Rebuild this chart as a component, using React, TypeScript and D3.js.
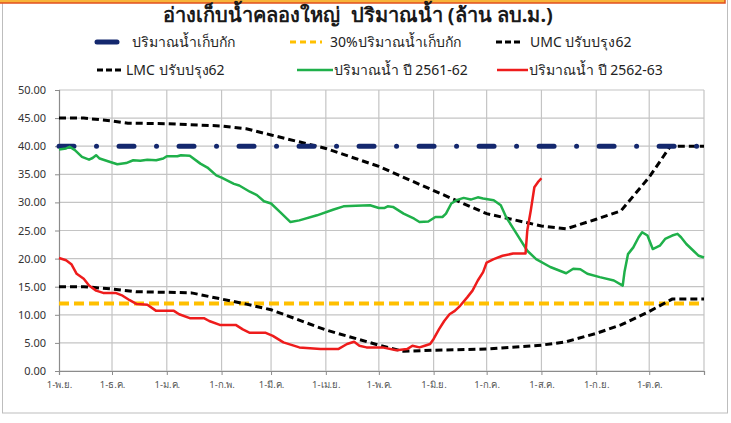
import React, { useEffect, useRef } from 'react'
import * as d3 from 'd3'

const W = 731
const H = 423
const margin = { top: 90, right: 27, bottom: 52, left: 59 }
const width = W - margin.left - margin.right
const height = H - margin.top - margin.bottom

// day offsets counted from 1-พ.ย.
const monthLabels = ['1-พ.ย.', '1-ธ.ค.', '1-ม.ค.', '1-ก.พ.', '1-มี.ค.', '1-เม.ย.', '1-พ.ค.', '1-มิ.ย.', '1-ก.ค.', '1-ส.ค.', '1-ก.ย.', '1-ต.ค.']
const yTicks = [0, 5, 10, 15, 20, 25, 30, 35, 40, 45, 50]

const capacity = 40
const lowLevel = 12

const umc: [number, number][] = [
  [0, 45], [14, 45], [30, 44.5], [39, 44.1], [61, 44.0], [92, 43.6], [106, 43.1], [120, 42.0],
  [151, 39.6], [181, 36.4], [212, 32.1], [242, 28.0], [273, 25.8], [287, 25.3], [304, 27.0],
  [318, 28.5], [334, 34.5], [346, 40], [365, 40]
]

const lmc: [number, number][] = [
  [0, 15.0], [14, 15.0], [30, 14.6], [44, 14.1], [61, 14.0], [75, 13.9], [92, 12.8], [106, 11.9],
  [120, 10.9], [151, 7.3], [181, 4.6], [195, 3.5], [212, 3.7], [242, 3.9], [273, 4.6], [287, 5.2],
  [304, 6.7], [318, 8.2], [334, 10.6], [347, 12.8], [365, 12.8]
]

const water6162: [number, number][] = [
  [0, 39.4], [4, 39.6], [6, 39.9], [9, 39.3], [13, 38.1], [17, 37.6], [19, 37.9], [21, 38.4], [23, 37.8],
  [29, 37.2], [33, 36.8], [38, 37.0], [42, 37.5], [46, 37.4], [50, 37.6], [55, 37.5], [59, 37.8], [61, 38.2],
  [67, 38.2], [69, 38.4], [74, 38.3], [80, 36.9], [84, 36.2], [89, 34.8], [92, 34.4], [99, 33.3], [102, 33.0],
  [108, 31.9], [112, 31.3], [116, 30.2], [120, 29.8], [125, 28.3], [131, 26.5], [136, 26.8], [146, 27.7],
  [155, 28.7], [161, 29.3], [168, 29.4], [176, 29.5], [181, 29.0], [184, 29.0], [186, 29.3], [189, 29.2],
  [195, 28.0], [201, 27.1], [204, 26.5], [209, 26.6], [213, 27.4], [217, 27.4], [219, 28.0], [222, 29.8],
  [225, 30.4], [229, 30.8], [233, 30.5], [237, 30.9], [240, 30.7], [246, 30.4], [250, 29.5], [253, 27.4],
  [259, 24.4], [265, 21.4], [270, 19.9], [278, 18.5], [287, 17.4], [291, 18.2], [295, 18.1], [299, 17.3],
  [306, 16.7], [314, 16.1], [319, 15.2], [320, 17.6], [322, 20.8], [325, 22.0], [328, 23.8], [330, 24.7],
  [333, 24.1], [336, 21.7], [340, 22.3], [343, 23.5], [347, 24.1], [350, 24.4], [352, 23.8], [355, 22.6],
  [359, 21.4], [362, 20.5], [365, 20.2]
]

const water6263: [number, number][] = [
  [0, 20.1], [4, 19.7], [7, 19.0], [10, 17.3], [14, 16.4], [17, 15.2], [21, 14.3], [25, 13.9], [32, 13.9],
  [36, 13.4], [40, 12.6], [44, 11.9], [50, 11.8], [55, 10.7], [65, 10.7], [68, 10.1], [74, 9.4], [82, 9.4],
  [85, 8.9], [91, 8.2], [100, 8.2], [104, 7.4], [108, 6.8], [117, 6.8], [121, 6.25], [127, 5.1], [136, 4.2],
  [148, 3.9], [158, 3.9], [163, 4.8], [167, 5.2], [170, 4.5], [174, 4.2], [183, 4.2], [191, 3.7], [197, 3.9],
  [200, 4.5], [204, 4.2], [207, 4.5], [210, 4.8], [212, 5.7], [215, 7.4], [218, 8.9], [221, 10.1], [224, 10.7],
  [227, 11.6], [231, 13.1], [234, 14.3], [237, 16.1], [240, 17.6], [242, 19.3], [246, 19.9], [251, 20.5],
  [257, 20.9], [264, 20.9], [265, 25.0], [267, 28.6], [269, 32.7], [271, 33.6], [273, 34.3]
]

const FONT = "Tahoma, 'Noto Sans', sans-serif"

const App = () => {
  const ref = useRef<SVGSVGElement>(null)

  useEffect(() => {
    if (!ref.current) return
    const root = d3.select(ref.current)
    root.selectAll('*').remove()

    const start = new Date(2018, 10, 1)
    const end = new Date(2019, 10, 1)
    const day = (d: number) => d3.timeDay.offset(start, d)

    const x = d3.scaleTime().domain([start, end]).range([0, width])
    const y = d3.scaleLinear().domain([0, 50]).range([height, 0])
    const months = d3.timeMonth.range(start, end)

    // outer frame + cut-off header box
    root.append('rect').attr('x', 2.5).attr('y', -5).attr('width', 725).attr('height', 418)
      .attr('fill', '#fff').attr('stroke', '#bdbdbd')
    root.append('rect').attr('x', -3).attr('y', -20).attr('width', 728).attr('height', 23)
      .attr('fill', '#f7b43a').attr('stroke', '#e2501f').attr('stroke-width', 1.5)

    // title
    root.append('text').attr('x', 358).attr('y', 22).attr('text-anchor', 'middle')
      .attr('font-family', FONT).attr('font-size', 20).attr('font-weight', 'bold').attr('fill', '#1a1a1a')
      .style('white-space', 'pre')
      .text('อ่างเก็บน้ำคลองใหญ่  ปริมาณน้ำ (ล้าน ลบ.ม.)')

    const svg = root.append('g').attr('transform', `translate(${margin.left},${margin.top})`)

    // grid
    svg.selectAll('.hgrid').data(yTicks).enter().append('line')
      .attr('x1', 0).attr('x2', width).attr('y1', d => y(d)).attr('y2', d => y(d))
      .attr('stroke', '#c4c4c4').attr('stroke-width', 1.2)
    svg.selectAll('.vgrid').data([...months.slice(1), end]).enter().append('line')
      .attr('x1', d => x(d)).attr('x2', d => x(d)).attr('y1', 0).attr('y2', height)
      .attr('stroke', '#c4c4c4').attr('stroke-width', 1.2)

    // axes
    const xAxis = d3.axisBottom(x).tickValues(months).tickSize(4)
      .tickFormat((_, i) => monthLabels[i])
    const gx = svg.append('g').attr('transform', `translate(0,${height})`).call(xAxis)
    gx.select('.domain').attr('stroke', '#8c8c8c').attr('stroke-width', 1.2)
    gx.selectAll('.tick line').attr('stroke', '#8c8c8c')
    gx.selectAll('.tick text').attr('font-family', FONT).attr('font-size', 9.5).attr('fill', '#555').attr('dy', '1.1em')

    const yAxis = d3.axisLeft(y).tickValues(yTicks).tickSize(4).tickFormat(d3.format('.2f'))
    const gy = svg.append('g').call(yAxis)
    gy.select('.domain').attr('stroke', '#8c8c8c').attr('stroke-width', 1.2)
    gy.selectAll('.tick line').attr('stroke', '#8c8c8c')
    gy.selectAll('.tick text').attr('font-family', FONT).attr('font-size', 11).attr('fill', '#333').attr('x', -13)

    const line = d3.line<[number, number]>().x(d => x(day(d[0]))).y(d => y(d[1]))

    // series
    svg.append('path').datum([[0, lowLevel], [365, lowLevel]] as [number, number][]).attr('d', line)
      .attr('fill', 'none').attr('stroke', '#ffc000').attr('stroke-width', 4).attr('stroke-dasharray', '10 5')
    svg.append('path').datum(umc).attr('d', line)
      .attr('fill', 'none').attr('stroke', '#000').attr('stroke-width', 3).attr('stroke-dasharray', '7 4')
    svg.append('path').datum([[0, capacity], [365, capacity]] as [number, number][]).attr('d', line)
      .attr('fill', 'none').attr('stroke', '#14286e').attr('stroke-width', 5).attr('stroke-linecap', 'round')
      .attr('stroke-dasharray', '15 22.5 0.01 22.5')
    svg.append('path').datum(lmc).attr('d', line)
      .attr('fill', 'none').attr('stroke', '#000').attr('stroke-width', 3).attr('stroke-dasharray', '7 4')
    svg.append('path').datum(water6162).attr('d', line)
      .attr('fill', 'none').attr('stroke', '#1fb04a').attr('stroke-width', 2.5).attr('stroke-linejoin', 'round')
    svg.append('path').datum(water6263).attr('d', line)
      .attr('fill', 'none').attr('stroke', '#ee1c1c').attr('stroke-width', 2.5).attr('stroke-linejoin', 'round')

    // legend
    const legend = [
      { x1: 97, x2: 117, y: 42, tx: 132, color: '#14286e', w: 5, dash: null, cap: 'round', label: 'ปริมาณน้ำเก็บกัก' },
      { x1: 290, x2: 322, y: 42, tx: 330, color: '#ffc000', w: 3, dash: '6 4', cap: 'butt', label: '30%ปริมาณน้ำเก็บกัก' },
      { x1: 496, x2: 521, y: 42, tx: 530, color: '#000', w: 3, dash: '6 3', cap: 'butt', label: 'UMC ปรับปรุง62' },
      { x1: 97, x2: 122, y: 70, tx: 126, color: '#000', w: 3, dash: '6 3', cap: 'butt', label: 'LMC ปรับปรุง62' },
      { x1: 297, x2: 333, y: 70, tx: 334, color: '#1fb04a', w: 2.5, dash: null, cap: 'butt', label: 'ปริมาณน้ำ ปี 2561-62' },
      { x1: 497, x2: 528, y: 70, tx: 529, color: '#ee1c1c', w: 2.5, dash: null, cap: 'butt', label: 'ปริมาณน้ำ ปี 2562-63' }
    ]
    const lg = root.append('g')
    legend.forEach(l => {
      lg.append('line').attr('x1', l.x1).attr('x2', l.x2).attr('y1', l.y).attr('y2', l.y)
        .attr('stroke', l.color).attr('stroke-width', l.w).attr('stroke-linecap', l.cap)
        .attr('stroke-dasharray', l.dash)
      lg.append('text').attr('x', l.tx).attr('y', l.y).attr('dy', '0.35em')
        .attr('font-family', FONT).attr('font-size', 14).attr('fill', '#222').text(l.label)
    })
  }, [])

  return (
    <svg
      ref={ref}
      width={W}
      height={H}
      style={{ position: 'absolute', left: 0, top: 0, background: '#fff' }}
    ></svg>
  )
}

export default App
